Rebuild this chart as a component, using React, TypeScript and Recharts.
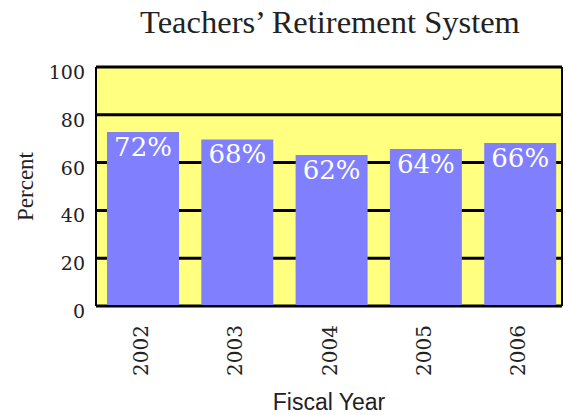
import React from 'react';
import { BarChart, Bar, XAxis, YAxis, CartesianGrid, LabelList } from 'recharts';

const years = ['2002', '2003', '2004', '2005', '2006'];
const percents = [72.8, 69.7, 63.2, 65.7, 68.2];
const labels = ['72%', '68%', '62%', '64%', '66%'];
const yTicks = [0, 20, 40, 60, 80, 100];

const data = years.map((year, i) => ({ year, value: percents[i], label: labels[i] }));

const SERIF = '"Liberation Serif", "Times New Roman", serif';
const DIGIT_SERIF = '"DejaVu Serif", serif';
const SANS = '"Liberation Sans", Arial, sans-serif';

function YTick(props: any) {
  const { x, y, payload } = props;
  return (
    <text x={x} y={y} dy={12} textAnchor="end" style={{ fontFamily: DIGIT_SERIF, fontSize: 19 }} fill="#222">
      {payload.value}
    </text>
  );
}

function XTick(props: any) {
  const { x, y, payload } = props;
  const ay = y + 17;
  return (
    <text
      x={x}
      y={ay}
      dy={5}
      transform={`rotate(-90, ${x}, ${ay})`}
      textAnchor="end"
      style={{ fontFamily: DIGIT_SERIF, fontSize: 20 }}
      fill="#222"
    >
      {payload.value}
    </text>
  );
}

function PercentLabel(props: any) {
  const vb = props.viewBox || { x: 0, y: 67, width: 96, height: 239 };
  const cx = 33;
  const cy = vb.y + vb.height / 2;
  return (
    <text
      x={cx}
      y={cy}
      transform={`rotate(-90, ${cx}, ${cy})`}
      textAnchor="middle"
      style={{ fontFamily: SERIF, fontSize: 23 }}
      fill="#222"
    >
      Percent
    </text>
  );
}

function BarLabel(props: any) {
  const { x, y, width, value } = props;
  const cx = Number(x) + Number(width) / 2;
  return (
    <text
      x={cx}
      y={Number(y)}
      dy={24}
      textAnchor="middle"
      style={{ fontFamily: DIGIT_SERIF, fontSize: 26 }}
      fill="#fff"
    >
      {value}
    </text>
  );
}

export default function App() {
  return (
    <div style={{ position: 'absolute', left: 0, top: 0, width: 566, height: 415, background: '#fff' }}>
      <div
        style={{
          position: 'absolute',
          left: 80,
          top: 6,
          width: 500,
          textAlign: 'center',
          fontFamily: SERIF,
          fontSize: 32.5,
          lineHeight: '32px',
          color: '#222',
          whiteSpace: 'nowrap',
        }}
      >
        Teachers’ Retirement System
      </div>
      <BarChart width={566} height={415} data={data} margin={{ top: 67, right: 0, bottom: 0, left: 0 }}>
        <CartesianGrid fill="#FFFF80" fillOpacity={1} stroke="#000" strokeWidth={3} vertical={false} />
        <XAxis
          dataKey="year"
          height={109}
          tickLine={false}
          tickSize={0}
          axisLine={{ stroke: '#000', strokeWidth: 2 }}
          tick={<XTick />}
          interval={0}
          padding={{ left: 0, right: -5.5 }}
          label={{
            value: 'Fiscal Year',
            position: 'insideBottom',
            offset: 5,
            style: { fontFamily: SANS, fontSize: 23 },
            fill: '#222',
          }}
        />
        <YAxis
          width={96}
          domain={[0, 100]}
          ticks={yTicks}
          tickLine={false}
          tickSize={0}
          tickMargin={11}
          axisLine={{ stroke: '#000', strokeWidth: 2 }}
          tick={<YTick />}
          label={<PercentLabel />}
        />
        <YAxis
          yAxisId="r"
          orientation="right"
          width={4}
          domain={[0, 100]}
          tick={false}
          tickLine={false}
          axisLine={{ stroke: '#000', strokeWidth: 2 }}
        />
        <Bar dataKey="value" fill="#8080FF" barSize={72} isAnimationActive={false}>
          <LabelList dataKey="label" content={<BarLabel />} />
        </Bar>
      </BarChart>
    </div>
  );
}
